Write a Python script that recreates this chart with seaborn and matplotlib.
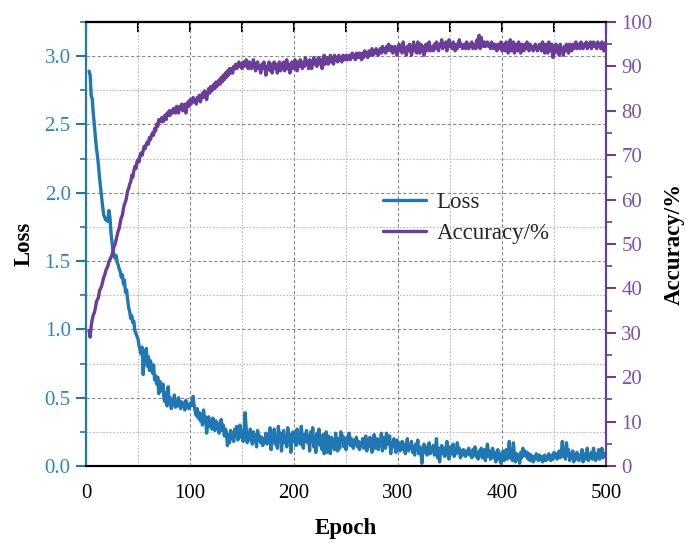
import numpy as np
import pandas as pd
import matplotlib
matplotlib.use("Agg")
import matplotlib.pyplot as plt
from matplotlib.ticker import MultipleLocator, FormatStrFormatter
from matplotlib.lines import Line2D
import seaborn as sns

# ---- data ----
start_epoch = 3
loss = [
    2.89, 2.86, 2.71, 2.69, 2.58, 2.50, 2.41, 2.33, 2.27, 2.20,
    2.11, 2.04, 1.97, 1.90, 1.84, 1.82, 1.80, 1.81, 1.79, 1.87,
    1.82, 1.71, 1.64, 1.57, 1.55, 1.52, 1.54, 1.49, 1.47, 1.44,
    1.42, 1.38, 1.40, 1.33, 1.36, 1.27, 1.29, 1.22, 1.16, 1.13,
    1.08, 1.10, 1.05, 1.06, 0.99, 0.97, 0.95, 0.93, 0.88, 0.85,
    0.82, 0.87, 0.67, 0.84, 0.78, 0.86, 0.73, 0.80, 0.70, 0.77,
    0.72, 0.68, 0.74, 0.63, 0.66, 0.60, 0.65, 0.53, 0.62, 0.57,
    0.55, 0.60, 0.49, 0.47, 0.54, 0.44, 0.58, 0.46, 0.50, 0.42,
    0.48, 0.45, 0.52, 0.43, 0.47, 0.44, 0.50, 0.45, 0.42, 0.47,
    0.44, 0.46, 0.41, 0.48, 0.43, 0.45, 0.42, 0.46, 0.44, 0.47,
    0.51, 0.44, 0.40, 0.37, 0.42, 0.35, 0.39, 0.33, 0.38, 0.30,
    0.41, 0.34, 0.36, 0.24, 0.31, 0.36, 0.29, 0.33, 0.27, 0.35,
    0.30, 0.26, 0.33, 0.28, 0.31, 0.24, 0.29, 0.34, 0.26, 0.30,
    0.22, 0.27, 0.25, 0.15, 0.23, 0.17, 0.26, 0.20, 0.24, 0.18,
    0.27, 0.22, 0.29, 0.19, 0.25, 0.30, 0.21, 0.26, 0.18, 0.23,
    0.39, 0.28, 0.17, 0.24, 0.19, 0.27, 0.20, 0.16, 0.25, 0.18,
    0.23, 0.14, 0.26, 0.19, 0.22, 0.17, 0.21, 0.15, 0.20, 0.18,
    0.24, 0.16, 0.19, 0.21, 0.28, 0.12, 0.23, 0.19, 0.27, 0.16,
    0.21, 0.13, 0.29, 0.18, 0.24, 0.11, 0.22, 0.26, 0.17, 0.20,
    0.14, 0.28, 0.19, 0.23, 0.10, 0.21, 0.25, 0.18, 0.22, 0.15,
    0.27, 0.19, 0.24, 0.16, 0.29, 0.20, 0.13, 0.23, 0.18, 0.26,
    0.17, 0.22, 0.11, 0.25, 0.19, 0.28, 0.14, 0.21, 0.10, 0.24,
    0.18, 0.27, 0.15, 0.20, 0.12, 0.23, 0.09, 0.19, 0.25, 0.10,
    0.22, 0.17, 0.09, 0.21, 0.14, 0.19, 0.12, 0.24, 0.16, 0.11,
    0.20, 0.13, 0.25, 0.18, 0.22, 0.14, 0.19, 0.12, 0.21, 0.17,
    0.24, 0.15, 0.20, 0.18, 0.13, 0.19, 0.16, 0.21, 0.14, 0.18,
    0.12, 0.17, 0.15, 0.20, 0.13, 0.18, 0.22, 0.11, 0.19, 0.14,
    0.21, 0.16, 0.10, 0.18, 0.23, 0.13, 0.17, 0.20, 0.12, 0.19,
    0.15, 0.24, 0.11, 0.18, 0.21, 0.13, 0.24, 0.16, 0.19, 0.22,
    0.09, 0.17, 0.14, 0.20, 0.16, 0.10, 0.19, 0.13, 0.17, 0.11,
    0.15, 0.18, 0.12, 0.16, 0.09, 0.14, 0.20, 0.11, 0.15, 0.13,
    0.18, 0.10, 0.14, 0.08, 0.16, 0.12, 0.19, 0.09, 0.14, 0.11,
    0.02, 0.13, 0.16, 0.10, 0.14, 0.08, 0.12, 0.17, 0.09, 0.13,
    0.11, 0.15, 0.08, 0.12, 0.20, 0.06, 0.13, 0.03, 0.11, 0.15,
    0.09, 0.13, 0.07, 0.12, 0.18, 0.10, 0.05, 0.14, 0.09, 0.11,
    0.16, 0.07, 0.12, 0.09, 0.17, 0.10, 0.13, 0.06, 0.11, 0.08,
    0.12, 0.10, 0.07, 0.11, 0.09, 0.13, 0.08, 0.10, 0.06, 0.12,
    0.09, 0.14, 0.07, 0.10, 0.05, 0.11, 0.08, 0.13, 0.06, 0.09,
    0.12, 0.04, 0.10, 0.16, 0.07, 0.11, 0.05, 0.09, 0.13, 0.06,
    0.10, 0.03, 0.08, 0.12, 0.05, 0.09, 0.02, 0.07, 0.11, 0.04,
    0.08, 0.12, 0.05, 0.09, 0.18, 0.06, 0.10, 0.04, 0.17, 0.07,
    0.03, 0.09, 0.05, 0.08, 0.02, 0.10, 0.06, 0.13, 0.08, 0.11,
    0.07, 0.10, 0.05, 0.09, 0.04, 0.08, 0.06, 0.03, 0.07, 0.05,
    0.09, 0.06, 0.04, 0.08, 0.05, 0.07, 0.03, 0.06, 0.08, 0.04,
    0.07, 0.05, 0.09, 0.06, 0.04, 0.08, 0.05, 0.10, 0.07, 0.09,
    0.05, 0.08, 0.11, 0.06, 0.09, 0.18, 0.07, 0.10, 0.05, 0.17,
    0.08, 0.12, 0.04, 0.09, 0.06, 0.11, 0.03, 0.08, 0.05, 0.10,
    0.07, 0.04, 0.08, 0.06, 0.12, 0.03, 0.09, 0.05, 0.07, 0.13,
    0.04, 0.08, 0.06, 0.10, 0.05, 0.13, 0.07, 0.04, 0.09, 0.06,
    0.12, 0.05, 0.08, 0.13, 0.06, 0.09, 0.07, 0.10,
]
accuracy = [
    30.5, 29.0, 31.5, 33.0, 34.0, 34.5, 35.5, 37.0, 37.5, 38.0,
    39.5, 40.0, 40.5, 41.5, 42.5, 43.0, 44.0, 44.5, 45.0, 46.0,
    46.5, 47.0, 47.5, 48.5, 49.5, 50.0, 51.0, 52.0, 53.0, 53.5,
    55.0, 56.0, 56.5, 58.0, 59.0, 59.5, 60.5, 62.0, 62.5, 63.5,
    64.0, 65.5, 65.0, 66.5, 67.5, 67.0, 68.5, 69.0, 68.5, 70.0,
    70.5, 70.0, 71.0, 72.0, 71.5, 72.5, 73.0, 72.5, 74.0, 73.5,
    74.5, 75.0, 74.5, 76.0, 75.5, 77.0, 76.5, 78.0, 77.5, 78.0,
    78.5, 77.5, 78.5, 79.0, 78.0, 79.5, 79.0, 80.0, 79.0, 80.0,
    79.5, 80.5, 80.0, 79.5, 81.0, 80.5, 79.5, 81.0, 80.5, 81.5,
    80.0, 81.0, 81.5, 79.5, 81.0, 82.0, 81.0, 82.5, 81.5, 82.0,
    83.0, 82.0, 82.5, 81.5, 83.0, 82.5, 83.5, 82.0, 83.0, 84.0,
    83.0, 84.5, 83.5, 82.5, 84.0, 85.0, 84.0, 85.5, 84.5, 85.0,
    86.0, 85.0, 86.5, 85.5, 86.0, 87.0, 86.0, 87.5, 86.5, 88.0,
    87.0, 88.5, 87.5, 89.0, 88.0, 89.5, 88.5, 89.5, 88.5, 90.0,
    89.5, 90.5, 89.5, 90.0, 91.0, 90.0, 90.5, 89.5, 91.0, 90.0,
    90.5, 91.5, 90.0, 89.5, 91.0, 90.5, 89.5, 90.5, 91.5, 90.0,
    89.0, 90.5, 91.0, 89.5, 90.0, 88.5, 90.5, 89.5, 91.0, 90.0,
    88.0, 90.0, 89.5, 91.0, 89.0, 90.5, 88.5, 90.0, 91.0, 89.5,
    90.5, 88.5, 90.0, 91.0, 89.0, 90.5, 89.5, 91.0, 89.0, 90.0,
    91.5, 89.5, 90.5, 88.5, 90.0, 91.0, 89.5, 90.5, 91.5, 90.0,
    89.0, 91.0, 90.0, 91.5, 90.5, 89.5, 91.0, 90.0, 92.0, 90.5,
    91.0, 89.5, 91.5, 90.5, 89.5, 91.0, 92.0, 90.5, 91.5, 90.0,
    91.0, 92.0, 90.5, 91.5, 89.5, 91.0, 92.5, 90.5, 91.5, 92.0,
    90.5, 91.5, 92.5, 91.0, 92.0, 90.5, 92.5, 91.5, 92.0, 91.0,
    92.5, 91.5, 92.0, 91.0, 92.5, 92.0, 91.5, 92.5, 91.5, 92.0,
    92.5, 91.5, 92.0, 93.0, 92.0, 92.5, 91.5, 93.0, 92.5, 92.0,
    93.0, 92.5, 91.5, 93.0, 92.0, 93.5, 92.5, 93.0, 92.0, 93.5,
    92.5, 93.0, 94.0, 92.5, 93.5, 93.0, 94.0, 93.0, 92.5, 93.5,
    94.0, 93.0, 94.5, 93.5, 94.0, 93.0, 94.5, 93.5, 95.0, 94.0,
    93.5, 94.5, 93.0, 94.0, 94.5, 93.5, 92.5, 94.0, 95.0, 93.5,
    94.0, 93.0, 95.5, 93.5, 94.0, 92.5, 94.5, 93.5, 95.0, 94.0,
    92.5, 94.0, 95.5, 93.5, 94.5, 93.0, 95.5, 94.0, 93.0, 95.0,
    93.5, 94.5, 92.5, 94.0, 95.0, 93.5, 94.5, 95.5, 93.5, 94.0,
    94.5, 93.5, 95.0, 94.0, 95.5, 94.5, 93.5, 95.0, 94.5, 96.0,
    94.0, 95.0, 94.5, 95.5, 93.5, 95.0, 96.0, 94.5, 95.0, 94.0,
    95.5, 94.5, 93.5, 95.0, 94.0, 95.0, 96.0, 94.5, 95.0, 94.0,
    94.5, 95.0, 94.0, 95.5, 94.5, 94.0, 95.0, 94.5, 95.5, 94.0,
    94.5, 95.0, 94.0, 96.0, 94.5, 97.0, 94.0, 96.5, 95.0, 94.5,
    95.5, 94.5, 95.0, 95.5, 94.5, 95.0, 94.0, 95.5, 94.5, 94.0,
    95.0, 94.5, 93.5, 95.0, 94.0, 94.5, 95.5, 93.5, 94.0, 95.0,
    93.5, 95.5, 94.5, 93.0, 95.0, 96.0, 93.5, 94.5, 95.5, 93.0,
    94.5, 95.0, 93.5, 95.5, 94.0, 93.0, 95.0, 94.5, 93.5, 95.0,
    94.0, 95.5, 94.5, 93.5, 95.0, 94.0, 94.5, 93.5, 94.0, 95.0,
    94.5, 93.5, 94.0, 95.0, 94.5, 93.5, 95.5, 94.0, 93.0, 95.0,
    94.5, 93.0, 95.5, 94.0, 93.5, 95.0, 92.0, 94.5, 93.0, 95.0,
    93.5, 94.5, 92.5, 95.0, 93.5, 94.0, 92.5, 94.5, 93.5, 95.0,
    94.0, 93.0, 95.0, 94.5, 93.5, 95.0, 94.0, 94.5, 95.5, 94.0,
    94.5, 95.0, 94.0, 95.5, 94.5, 94.0, 95.0, 94.5, 95.5, 94.0,
    95.0, 94.5, 95.5, 94.0, 95.0, 95.5, 94.5, 95.0, 94.0, 95.5,
    94.5, 95.0, 94.0, 95.5, 94.5, 93.5, 95.0, 95.5,
]
x_ticks = [0, 100, 200, 300, 400, 500]
loss_label = "Loss"
acc_label = "Accuracy/%"

df_loss = pd.DataFrame({"Epoch": np.arange(start_epoch, start_epoch + len(loss)), "Loss": loss})
df_acc = pd.DataFrame({"Epoch": np.arange(start_epoch, start_epoch + len(accuracy)), "Accuracy": accuracy})

# ---- style ----
sns.set_theme(style="white")
plt.rcParams["font.family"] = ["Liberation Serif", "DejaVu Serif"]

BLUE = "#1f77b4"
BLUE_TXT = "#2b86c3"
PURPLE = "#6a3d9a"
PURPLE_TXT = "#7a52ae"

fig = plt.figure(figsize=(6.86, 5.43), dpi=100)
ax = fig.add_axes([86 / 686, 1 - 466 / 543, 520 / 686, 444 / 543])
ax2 = ax.twinx()

sns.lineplot(data=df_loss, x="Epoch", y="Loss", ax=ax, color=BLUE, lw=2.4, estimator=None)
sns.lineplot(data=df_acc, x="Epoch", y="Accuracy", ax=ax2, color=PURPLE, lw=2.4, estimator=None)

ax.set_xlim(0, 500)
ax.set_ylim(0, 3.25)
ax2.set_ylim(0, 100)

ax.set_xticks(x_ticks)
ax.xaxis.set_minor_locator(MultipleLocator(50))
ax.yaxis.set_major_locator(MultipleLocator(0.5))
ax.yaxis.set_minor_locator(MultipleLocator(0.25))
ax.yaxis.set_major_formatter(FormatStrFormatter("%.1f"))
ax2.yaxis.set_major_locator(MultipleLocator(10))
ax2.yaxis.set_minor_locator(MultipleLocator(5))

# grids
ax.grid(which="major", axis="both", color="#8a8a8a", linestyle=(0, (3, 2)), linewidth=0.8)
ax.grid(which="minor", axis="both", color="#b8b8b8", linestyle=(0, (1.5, 1.5)), linewidth=0.8)
ax.set_axisbelow(True)

# spines
for a in (ax, ax2):
    for s in a.spines.values():
        s.set_linewidth(1.5)
        s.set_visible(True)
for a in (ax, ax2):
    a.spines["left"].set_color(BLUE)
    a.spines["right"].set_color(PURPLE)
    a.spines["top"].set_color("black")
    a.spines["bottom"].set_color("black")

# ticks
ax.tick_params(axis="x", which="major", direction="out", length=7, width=1.5, color="black",
               labelsize=15, labelcolor="black", top=False, pad=6)
ax.tick_params(axis="x", which="minor", direction="out", length=4, width=1.5, color="black", top=False)
ax.tick_params(axis="y", which="major", direction="out", length=7, width=1.5, color=BLUE,
               labelsize=15, labelcolor=BLUE_TXT, left=True, right=False, pad=4)
ax.tick_params(axis="y", which="minor", direction="out", length=4, width=1.2, color=BLUE, left=True, right=False)
ax2.tick_params(axis="y", which="major", direction="out", length=7, width=1.5, color=PURPLE,
                labelsize=15, labelcolor=PURPLE_TXT, right=True, pad=4)
ax2.tick_params(axis="y", which="minor", direction="out", length=4, width=1.2, color=PURPLE, right=True)
# top ticks inward
top = ax.secondary_xaxis("top")
top.set_xticks(np.arange(0, 501, 50))
top.tick_params(direction="in", length=7, width=1.5, color="black", labeltop=False)
top.spines["top"].set_linewidth(1.5)

ax.set_xlabel("Epoch", fontsize=16.5, fontweight="bold", color="black", labelpad=11)
ax.set_ylabel(loss_label, fontsize=16.5, fontweight="bold", color="black", labelpad=7)
ax2.set_ylabel(acc_label, fontsize=16.5, fontweight="bold", color="black", labelpad=8, rotation=90)

handles = [Line2D([0], [0], color=BLUE, lw=2.4), Line2D([0], [0], color=PURPLE, lw=2.4)]
ax2.legend(handles, [loss_label, acc_label], loc="center left", bbox_to_anchor=(0.571, 0.558),
           frameon=False, fontsize=16.5, handlelength=1.9, handletextpad=0.45,
           labelspacing=0.45, borderpad=0, borderaxespad=0)

fig.savefig("out.png", dpi=100)
